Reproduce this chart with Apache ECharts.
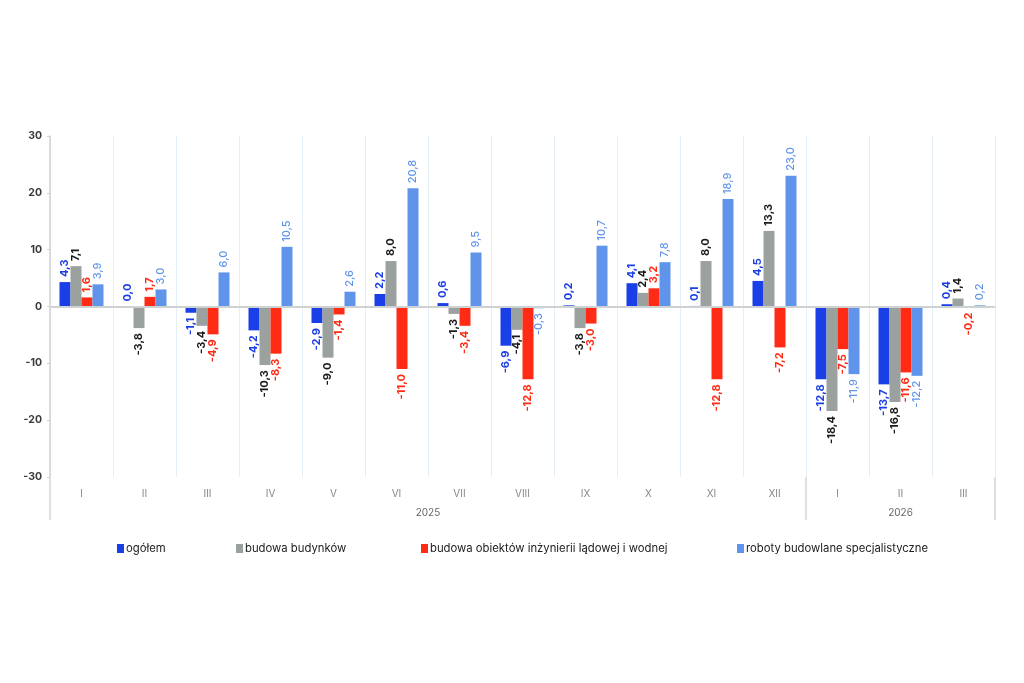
<!DOCTYPE html>
<html>
<head>
<meta charset="utf-8">
<script src="https://cdn.jsdelivr.net/npm/echarts@6/dist/echarts.min.js"></script>
<style>
  html, body { margin: 0; padding: 0; background: #fff; }
  #chart { width: 1024px; height: 683px; }
</style>
</head>
<body>
<div id="chart"></div>
<script>
// miesiace
var months = ['I', 'II', 'III', 'IV', 'V', 'VI', 'VII', 'VIII', 'IX', 'X', 'XI', 'XII', 'I', 'II', 'III']
var years = ['2025', '2026']
var seriesNames = ['ogółem', 'budowa budynków', 'budowa obiektów inżynierii lądowej i wodnej', 'roboty budowlane specjalistyczne']
var ogolem = [4.3, 0.0, -1.1, -4.2, -2.9, 2.2, 0.6, -6.9, 0.2, 4.1, 0.1, 4.5, -12.8, -13.7, 0.4]
var budynki = [7.1, -3.8, -3.4, -10.3, -9.0, 8.0, -1.3, -4.1, -3.8, 2.4, 8.0, 13.3, -18.4, -16.8, 1.4]
var inzynieria = [1.6, 1.7, -4.9, -8.3, -1.4, -11.0, -3.4, -12.8, -3.0, 3.2, -12.8, -7.2, -7.5, -11.6, -0.2]
var roboty = [3.9, 3.0, 6.0, 10.5, 2.6, 20.8, 9.5, -0.3, 10.7, 7.8, 18.9, 23.0, -11.9, -12.2, 0.2]
var yTicks = [-30, -20, -10, 0, 10, 20, 30]

var chart = echarts.init(document.getElementById('chart'))

var barColors = ['#1b3fe6', '#9aa19f', '#ff2b14', '#5f94ea']
var labelColors = ['#1b3fe6', '#1a1a1a', '#ff2b14', '#5f94ea']
var font = 'Inter, "Noto Sans", sans-serif'
var legendLeft = [112, 231, 416, 732]

function fmt(v) {
  return v.toFixed(1).replace('.', ',')
}

function makeData(arr) {
  return arr.map(function (v) {
    var neg = v < 0
    return {
      value: v,
      label: {
        position: neg ? 'bottom' : 'top',
        align: neg ? 'right' : 'left',
        distance: 5
      }
    }
  })
}

var allData = [ogolem, budynki, inzynieria, roboty]
var series = allData.map(function (arr, i) {
  var s = {
    name: seriesNames[i],
    type: 'bar',
    xAxisIndex: 0,
    yAxisIndex: 0,
    barWidth: 11,
    barGap: '0%',
    itemStyle: { color: barColors[i] },
    label: {
      show: true,
      rotate: 90,
      verticalAlign: 'middle',
      color: labelColors[i],
      fontFamily: font,
      fontSize: 11,
      fontWeight: i == 3 ? 500 : 'bold',
      formatter: function (p) { return fmt(p.value) }
    },
    data: makeData(arr)
  }
  if (i == 0) {
    s.markLine = {
      silent: true,
      symbol: 'none',
      label: { show: false },
      lineStyle: { color: '#cfd2d3', width: 2, type: 'solid' },
      data: [{ yAxis: 0 }]
    }
  }
  return s
})

// osobna legenda dla kazdej serii
var legends = seriesNames.map(function (n, i) {
  return {
    top: 538,
    left: legendLeft[i],
    itemWidth: 7,
    itemHeight: 9,
    icon: 'rect',
    textStyle: { color: '#222', fontFamily: font, fontSize: 11.3, padding: [0, 0, 0, -3] },
    data: [n]
  }
})

var option = {
  animation: false,
  legend: legends,
  grid: { left: 50, right: 29, top: 136, bottom: 206 },
  xAxis: [
    {
      type: 'category',
      data: months,
      axisLine: { show: false },
      axisTick: { show: false },
      splitLine: { show: true, lineStyle: { color: '#e4eef6', width: 1 } },
      axisLabel: { color: '#888', fontFamily: font, fontSize: 10, margin: 12 }
    },
    {
      type: 'value',
      position: 'bottom',
      min: 0,
      max: 15,
      axisLine: { show: false },
      splitLine: { show: false },
      axisTick: {
        show: true,
        length: 43,
        customValues: [0, 12, 15],
        lineStyle: { color: '#d4d7d8', width: 1.5 }
      },
      axisLabel: {
        show: true,
        customValues: [6, 13.5],
        margin: 31,
        color: '#666',
        fontFamily: font,
        fontSize: 10,
        formatter: function (v) { return v == 6 ? years[0] : years[1] }
      }
    }
  ],
  yAxis: {
    type: 'value',
    min: -30,
    max: 30,
    interval: 10,
    axisLine: { show: true, lineStyle: { color: '#cfd2d3', width: 1.5 } },
    axisTick: { show: true, length: 3, lineStyle: { color: '#cfd2d3' } },
    splitLine: { show: false },
    axisLabel: {
      color: '#3a3a3a',
      fontFamily: font,
      fontSize: 10.5,
      fontWeight: 'bold',
      margin: 8,
      customValues: yTicks
    }
  },
  series: series
}

chart.setOption(option)
</script>
</body>
</html>
